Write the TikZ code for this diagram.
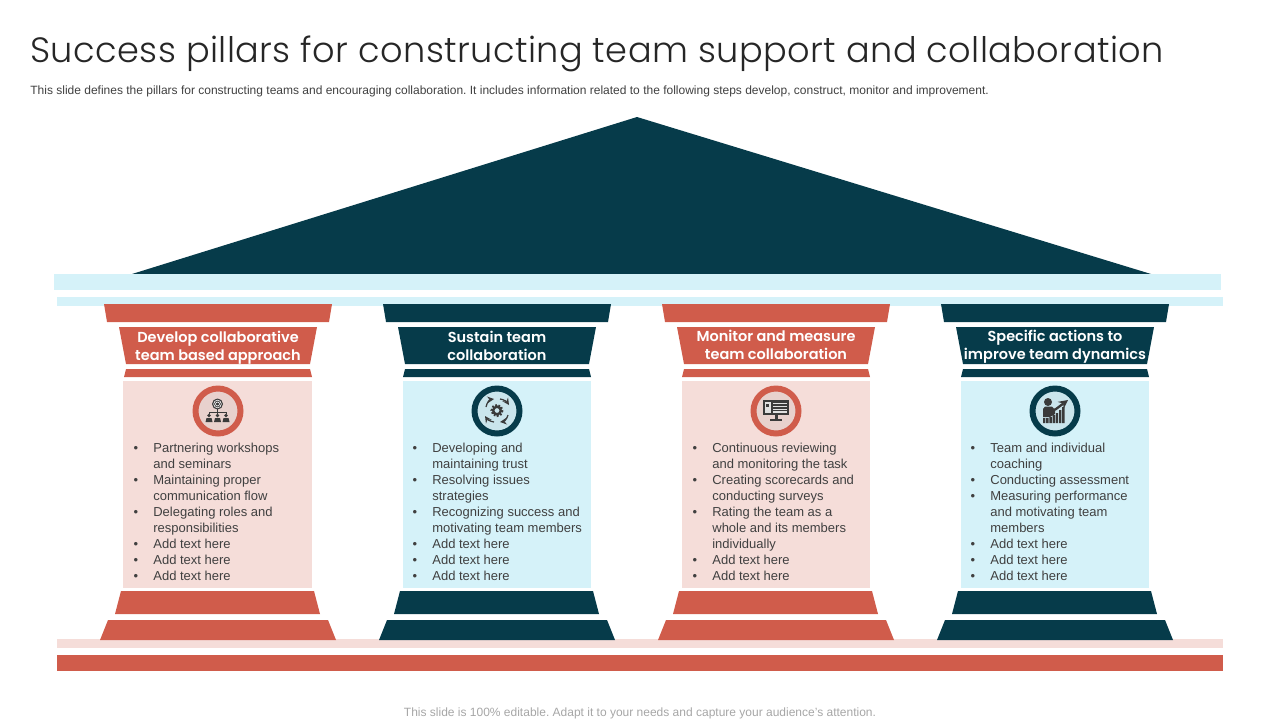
\documentclass[tikz,border=0pt]{standalone}
\usepackage{xcolor}
\usepackage{fontspec}
\setmainfont{Liberation Sans}
\newfontfamily\titlefont[LetterSpace=1.2]{Poppins Light}
\newfontfamily\headfont{Poppins SemiBold}
\definecolor{tealdark}{HTML}{063B4A}
\definecolor{tealpale}{HTML}{D5F2F9}
\definecolor{redbrick}{HTML}{D05C4B}
\definecolor{redpale}{HTML}{F5DDD9}
\definecolor{icondark}{HTML}{3A3A3A}
\definecolor{bodygrey}{HTML}{404040}
\newcommand{\blt}{\llap{\textbullet\hspace{8.6pt}}}
\frenchspacing

\begin{document}
\begin{tikzpicture}[x=0.02cm, y=-0.02cm,
	redfill/.style={fill=redbrick},
	tealfill/.style={fill=tealdark},
	redpanel/.style={fill=redpale},
	tealpanel/.style={fill=tealpale},
	ring/.style={circle,line width=3.4pt,minimum size=0.9cm,inner sep=0pt},
	ringglow/.style={circle,minimum size=0.9cm,inner sep=0pt,fill=black,fill opacity=0.05},
	headtext/.style={inner sep=0pt,align=center,text=white,font=\headfont\fontsize{8.25}{10.2}\selectfont},
	listtext/.style={anchor=north west,inner sep=0pt,align=left,text=bodygrey,font=\fontsize{7.4}{9.1}\selectfont},
	icon/.style={fill=icondark},
	iconline/.style={draw=icondark,line width=0.5pt}]
	\useasboundingbox (0,0) rectangle (1280,720);

	%title lines
	\node[anchor=base west,inner sep=0pt,text=black!85,font=\titlefont\fontsize{20}{24}\selectfont] (title) at (30,62) {Success pillars for constructing team support and collaboration};
	\node[anchor=base west,inner sep=0pt,text=bodygrey,font=\fontsize{6.83}{8}\selectfont] (subtitle) at (30,94) {This slide defines the pillars for constructing teams and encouraging collaboration. It includes information related to the following steps develop, construct, monitor and improvement.};
	\node[anchor=base,inner sep=0pt,text=black!35,font=\fontsize{6.83}{8}\selectfont] (footer) at (640,716) {This slide is 100\% editable. Adapt it to your needs and capture your audience's attention.};

	%roof and floor
	\fill[tealfill] (637,117) -- (1151,274) -- (132,274) -- cycle;
	\fill[tealpanel] (54,274) rectangle (1221,290);
	\fill[tealpanel] (57,297) rectangle (1223,306);
	\fill[redpanel] (57,639) rectangle (1223,648);
	\fill[redfill] (57,655) rectangle (1223,671);

	%pillar 1
	\fill[redfill] (104,304) -- (332,304) -- (329,322) -- (107,322) -- cycle;
	\fill[redfill] (119,327) -- (317,327) -- (310,364) -- (126,364) -- cycle;
	\fill[redfill] (126,369) -- (310,369) -- (312,377) -- (124,377) -- cycle;
	\fill[redpanel] (123,381) rectangle (312,588);
	\fill[redfill] (121,591) -- (314,591) -- (320,614) -- (115,614) -- cycle;
	\fill[redfill] (108,620) -- (328,620) -- (336,640) -- (100,640) -- cycle;

	%pillar 2
	\fill[tealfill] (383,304) -- (611,304) -- (608,322) -- (386,322) -- cycle;
	\fill[tealfill] (398,327) -- (596,327) -- (589,364) -- (405,364) -- cycle;
	\fill[tealfill] (405,369) -- (589,369) -- (591,377) -- (403,377) -- cycle;
	\fill[tealpanel] (403,381) rectangle (591,588);
	\fill[tealfill] (400,591) -- (593,591) -- (599,614) -- (394,614) -- cycle;
	\fill[tealfill] (387,620) -- (607,620) -- (615,640) -- (379,640) -- cycle;

	%pillar 3
	\fill[redfill] (662,304) -- (890,304) -- (887,322) -- (665,322) -- cycle;
	\fill[redfill] (677,327) -- (875,327) -- (868,364) -- (684,364) -- cycle;
	\fill[redfill] (684,369) -- (868,369) -- (870,377) -- (682,377) -- cycle;
	\fill[redpanel] (682,381) rectangle (870,588);
	\fill[redfill] (679,591) -- (872,591) -- (878,614) -- (673,614) -- cycle;
	\fill[redfill] (666,620) -- (886,620) -- (894,640) -- (658,640) -- cycle;

	%pillar 4
	\fill[tealfill] (941,304) -- (1169,304) -- (1166,322) -- (944,322) -- cycle;
	\fill[tealfill] (956,327) -- (1154,327) -- (1147,364) -- (963,364) -- cycle;
	\fill[tealfill] (963,369) -- (1147,369) -- (1149,377) -- (961,377) -- cycle;
	\fill[tealpanel] (961,381) rectangle (1149,588);
	\fill[tealfill] (958,591) -- (1151,591) -- (1157,614) -- (952,614) -- cycle;
	\fill[tealfill] (945,620) -- (1165,620) -- (1173,640) -- (937,640) -- cycle;

	%headings
	\node[headtext] (head1) at (218,348) {Develop collaborative\\team based approach};
	\node[headtext] (head2) at (497,346) {Sustain team\\collaboration};
	\node[headtext] (head3) at (776,345) {Monitor and measure\\team collaboration};
	\node[headtext] (head4) at (1055,347) {Specific actions to\\improve team dynamics};

	%rings
	\node[ringglow] (glow1) at (218,411) {};
	\node[ringglow] (glow2) at (497,411) {};
	\node[ringglow] (glow3) at (776,411) {};
	\node[ringglow] (glow4) at (1055,411) {};
	\node[ring,draw=redbrick] (ring1) at (218,411) {};
	\node[ring,draw=tealdark] (ring2) at (497,411) {};
	\node[ring,draw=redbrick] (ring3) at (776,411) {};
	\node[ring,draw=tealdark] (ring4) at (1055,411) {};

	%icon in ring 1
	\fill[icon] (217.5,404) circle (5.5);
	\draw[white,line width=0.35pt] (217.5,404) circle (3.8) (217.5,404) circle (2);
	\draw[iconline] (217.5,409) -- (217.5,412) (209,414) -- (209,412) -- (226,412) -- (226,414) (217.5,412) -- (217.5,414);
	\fill[icon] (209,415.5) circle (1.8) (217.5,415.5) circle (1.8) (226,415.5) circle (1.8);
	\fill[icon] (205.5,422) -- (206.5,418) -- (211.5,418) -- (212.5,422) -- cycle;
	\fill[icon] (214,422) -- (215,418) -- (220,418) -- (221,422) -- cycle;
	\fill[icon] (222.5,422) -- (223.5,418) -- (228.5,418) -- (229.5,422) -- cycle;

	%icon in ring 2
	\draw[icondark,line width=1.2pt,dash pattern=on 1pt off 0.9pt] (497,410.5) circle (5.5);
	\draw[icondark,line width=1.4pt] (497,410.5) circle (3.8);
	\draw[-stealth,iconline,line width=0.7pt] (486,407) .. controls (487,402) and (490,399.5) .. (494,399);
	\draw[-stealth,iconline,line width=0.7pt] (500,399) .. controls (504,399.5) and (507,402) .. (509,405);
	\draw[-stealth,iconline,line width=0.7pt] (508,415) .. controls (507,419) and (504,421.5) .. (500,422);
	\draw[-stealth,iconline,line width=0.7pt] (494,422) .. controls (490,421.5) and (487,419) .. (485,416);

	%icon in ring 3
	\fill[icon] (763,400) rectangle (789,415);
	\fill[black!12] (765,402) rectangle (771,413);
	\fill[icon] (766,403.5) rectangle (769,406.5);
	\draw[black!12,line width=0.6pt] (773,403.5) -- (787,403.5) (773,406.5) -- (787,406.5) (773,409.5) -- (787,409.5) (773,412) -- (787,412);
	\fill[icon] (774.5,415) rectangle (777.5,419);
	\fill[icon] (770,419) rectangle (782,421);

	%icon in ring 4
	\fill[icon] (1048,402) circle (4);
	\fill[icon] (1043,417) -- (1043,409) -- (1045,406.5) -- (1052,406.5) -- (1055,410) -- (1055,414) -- (1050,417) -- cycle;
	\fill[icon] (1043,418) rectangle (1045.4,423) (1046.2,418) rectangle (1048.6,423) (1049.4,417) rectangle (1051.8,423) (1052.6,415) rectangle (1055,423) (1055.8,413) rectangle (1058.2,423) (1059,410) rectangle (1061.4,423) (1062.2,407) rectangle (1064.6,423);
	\draw[-stealth,draw=icondark,line width=1.3pt] (1046,414) -- (1056,409) -- (1068,400);

	%lists
	\node[listtext] (list1) at (153,442.5) {\blt Partnering workshops\\and seminars\\\blt Maintaining proper\\communication flow\\\blt Delegating roles and\\responsibilities\\\blt Add text here\\\blt Add text here\\\blt Add text here};
	\node[listtext] (list2) at (432,442.5) {\blt Developing and\\maintaining trust\\\blt Resolving issues\\strategies\\\blt Recognizing success and\\motivating team members\\\blt Add text here\\\blt Add text here\\\blt Add text here};
	\node[listtext] (list3) at (712,442.5) {\blt Continuous reviewing\\and monitoring the task\\\blt Creating scorecards and\\conducting surveys\\\blt Rating the team as a\\whole and its members\\individually\\\blt Add text here\\\blt Add text here};
	\node[listtext] (list4) at (990,442.5) {\blt Team and individual\\coaching\\\blt Conducting assessment\\\blt Measuring performance\\and motivating team\\members\\\blt Add text here\\\blt Add text here\\\blt Add text here};
\end{tikzpicture}
\end{document}
